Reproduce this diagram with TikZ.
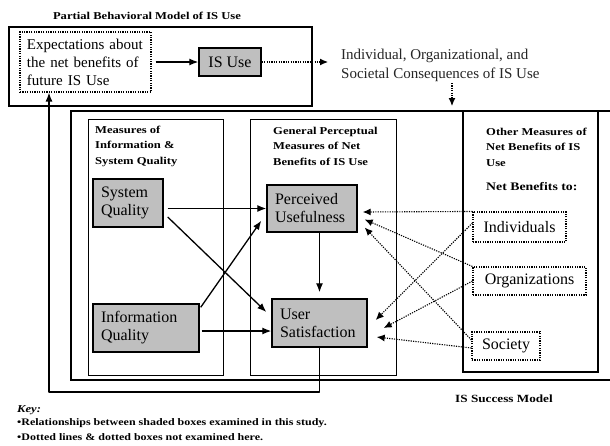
\documentclass[tikz,border=0pt]{standalone}
\usepackage{fontspec}
\setmainfont{Liberation Serif}
\newfontfamily\widefont[FakeStretch=1.2]{Liberation Serif}
\usetikzlibrary{arrows.meta,calc}
\begin{document}
\begin{tikzpicture}[x=1pt,y=-1pt,
  thickbox/.style={draw, line width=1.5pt, inner sep=0pt},
  thinbox/.style={draw, line width=0.9pt, inner sep=0pt},
  shaded/.style={draw, line width=1.4pt, fill=black!25, font=\fontsize{16}{18}\selectfont, align=left, inner xsep=8pt, inner ysep=0pt},
  dotbox/.style={draw, line width=1.1pt, dash pattern=on 1.2pt off 1.2pt, font=\fontsize{16}{18}\selectfont, inner sep=0pt},
  arr/.style={line width=1.3pt, -{Latex[length=9pt,width=7pt]}},
  dotarr/.style={line width=1.1pt, dash pattern=on 1.2pt off 1.2pt, -{Latex[length=8pt,width=7pt]}},
  btitle/.style={font=\widefont\bfseries\fontsize{10.5}{15.5}\selectfont, align=left, inner sep=0pt, anchor=west},
]
\useasboundingbox (0,0) rectangle (610,445);
\fill[white] (0,0) rectangle (610,445);

% Partial behavioral model
\node[btitle, anchor=center] (ptitle) at (147,16) {Partial Behavioral Model of IS Use};
\node[thickbox, minimum width=303pt, minimum height=79pt] (pbm) at (160.5,66.5) {};
\node[dotbox, minimum width=131pt, minimum height=60pt, text width=117pt, inner xsep=7pt, align=left, font=\fontsize{15}{18}\selectfont] (exp) at (85.5,62) {Expectations about\\the net benefits of\\future IS Use};
\node[shaded, minimum width=62pt, minimum height=28pt, inner xsep=0pt, align=center] (isuse) at (230,62) {IS Use};
\node[inner sep=0pt, anchor=west, align=left, font=\fontsize{15}{19}\selectfont, text=black!85] (cons) at (341,65.5) {Individual, Organizational, and\\Societal Consequences of IS Use};
\coordinate (ctip) at (328,62);
\coordinate (cdown) at (452,106);
\draw[arr] ($(exp.east)+(4,0)$) -- (isuse.west);
\draw[dotarr] (isuse.east) -- (ctip);
\draw[dotarr] ($(cons.south -| cdown)+(0,1)$) -- (cdown);

% IS success model
\draw[thickbox] (612,111) -- (71,111) -- (71,380) -- (612,380);
\node[thinbox, minimum width=135pt, minimum height=256pt] (b1) at (155.5,247) {};
\node[thinbox, minimum width=146pt, minimum height=256pt] (b2) at (323,247) {};
\node[thinbox, line width=1.1pt, minimum width=135pt, minimum height=261pt] (b3) at (530.5,241.5) {};

\node[btitle] (t1) at (95,146) {Measures of\\Information \&\\System Quality};
\node[btitle] (t2) at (273,146) {General Perceptual\\Measures of Net\\Benefits of IS Use};
\node[btitle] (t3) at (486,147) {Other Measures of\\Net Benefits of IS\\Use};
\node[btitle, font=\widefont\bfseries\fontsize{11.5}{14}\selectfont] (t4) at (486,187) {Net Benefits to:};

\node[shaded, minimum width=70pt, minimum height=48pt, text width=54pt] (sq) at (128,203) {System\\Quality};
\node[shaded, minimum width=106pt, minimum height=48pt, text width=90pt] (iq) at (146,328) {Information\\Quality};
\node[shaded, minimum width=90pt, minimum height=47pt, text width=74pt] (pu) at (312,208.5) {Perceived\\Usefulness};
\node[shaded, minimum width=95pt, minimum height=48pt, text width=79pt] (us) at (319.5,323) {User\\Satisfaction};

\node[dotbox, minimum width=93pt, minimum height=30pt] (ind) at (519.5,227) {Individuals};
\node[dotbox, minimum width=113pt, minimum height=28pt] (org) at (529.5,281) {Organizations};
\node[dotbox, minimum width=68pt, minimum height=28pt] (soc) at (506,346) {Society};

% solid arrows
\draw[arr] ($(sq.east |- pu.west)+(4,0)$) -- (pu.west);
\draw[arr] ($(sq.east)+(4,14)$) -- ($(us.west)+(-5,-11)$);
\draw[arr] ($(iq.north east)+(1,4)$) -- ($(pu.south west)+(-5,-12)$);
\draw[arr] ($(iq.east)+(2,3)$) -- ($(iq.east -| us.west)+(0,3)$);
\draw[arr, shorten >=6pt] (pu.south -| us.north) -- (us.north);
\coordinate (lp) at (49,392);
\draw[arr, line join=round] (us.south) |- (lp) -- (lp |- exp.south);

% dotted arrows
\draw[dotarr] (ind.north west) -- ($(pu.east)+(5,3.5)$);
\draw[dotarr] (org.north west) -- ($(pu.east)+(7,11)$);
\draw[dotarr] ($(soc.west)+(0,-6)$) -- ($(pu.east)+(7,19)$);
\draw[dotarr] ($(ind.west)+(0,-4)$) -- ($(us.east)+(8,-3)$);
\draw[dotarr] (org.west) -- ($(us.east)+(16,5)$);
\draw[dotarr] ($(soc.west)+(0,2)$) -- ($(us.east)+(9,14)$);

% captions
\node[btitle, anchor=center, font=\widefont\bfseries\fontsize{11}{13}\selectfont] (ism) at (504,399) {IS Success Model};
\node[btitle, font=\widefont\bfseries\itshape\fontsize{10.5}{13}\selectfont] (key) at (17,410) {Key:};
\node[btitle, font=\widefont\bfseries\fontsize{10}{13}\selectfont] (k1) at (17,423.5) {•Relationships between shaded boxes examined in this study.};
\node[btitle, font=\widefont\bfseries\fontsize{10}{13}\selectfont] (k2) at (17,437) {•Dotted lines \& dotted boxes not examined here.};
\end{tikzpicture}
\end{document}
